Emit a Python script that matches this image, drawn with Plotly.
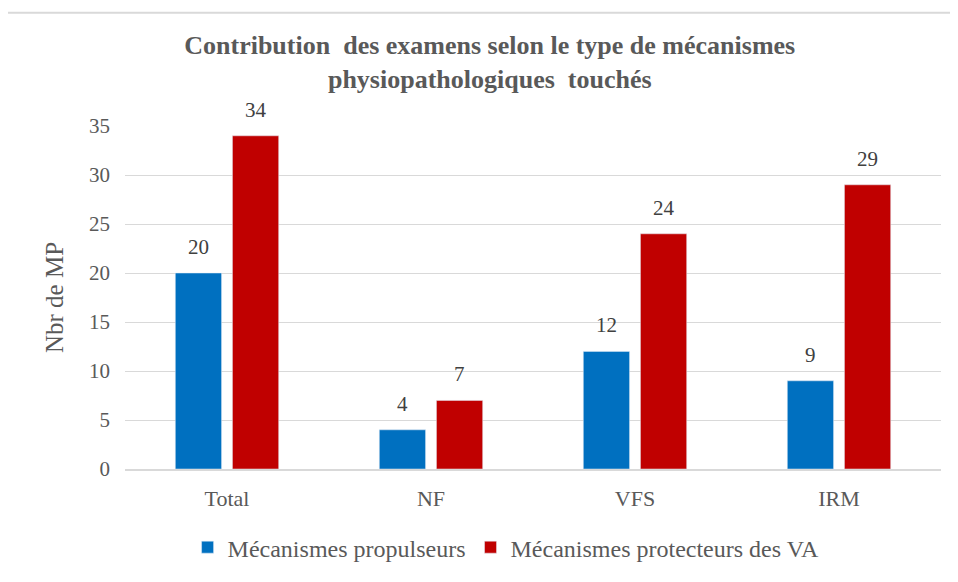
import plotly.graph_objects as go

categories = ["Total", "NF", "VFS", "IRM"]
propulseurs = [20, 4, 12, 9]
protecteurs = [34, 7, 24, 29]
series_names = ["Mécanismes propulseurs", "Mécanismes protecteurs des VA"]
y_ticks = [0, 5, 10, 15, 20, 25, 30, 35]

BLUE = "#0070C0"
RED = "#C00000"
GREY_TXT = "#595959"
FONT = "Liberation Serif, Times New Roman, serif"

fig = go.Figure()
fig.add_bar(x=categories, y=propulseurs, name=series_names[0], marker_color=BLUE)
fig.add_bar(x=categories, y=protecteurs, name=series_names[1], marker_color=RED)

# value labels above each bar, offset to match the grouped bar positions
for values, shift in ((propulseurs, -28.5), (protecteurs, 28.5)):
    for cat, v in zip(categories, values):
        fig.add_annotation(
            x=cat, y=v, text=str(v), showarrow=False,
            xshift=shift, yshift=12, yanchor="bottom",
            font=dict(family=FONT, size=21, color="#404040"),
        )

# chart frame (left and top edges visible in the reference)
fig.add_shape(
    type="rect", xref="paper", yref="paper",
    x0=-0.147, x1=1.2, y0=-0.5, y1=1.33,
    line=dict(color="#D9D9D9", width=2),
)

fig.update_layout(
    width=950,
    height=574,
    margin=dict(l=117, r=17, t=118, b=111),
    paper_bgcolor="white",
    plot_bgcolor="white",
    barmode="group",
    bargap=0.44,
    bargroupgap=0.19,
    font=dict(family=FONT, color=GREY_TXT),
    title=dict(
        text="<b>Contribution  des examens selon le type de mécanismes<br>physiopathologiques  touchés</b>",
        x=0.447, xref="paper", xanchor="center",
        y=0.92, yanchor="top",
        font=dict(family=FONT, size=26, color=GREY_TXT),
    ),
    xaxis=dict(
        tickfont=dict(size=22, color=GREY_TXT),
        showline=True, linecolor="#D9D9D9", linewidth=1.5,
        ticks="",
        ticklabelstandoff=9,
    ),
    yaxis=dict(
        range=[0, 35],
        tickvals=y_ticks,
        tickfont=dict(size=21, color=GREY_TXT),
        gridcolor="#D9D9D9",
        zeroline=False,
        ticklen=0,
        ticklabelstandoff=14,
        title=dict(text="Nbr de MP", font=dict(size=25, color=GREY_TXT), standoff=18),
    ),
    legend=dict(
        orientation="h",
        x=0.467, xanchor="center",
        y=-0.229, yanchor="middle",
        font=dict(family=FONT, size=24, color=GREY_TXT),
        itemwidth=30,
        traceorder="normal",
    ),
)

fig.write_html("out.html")
